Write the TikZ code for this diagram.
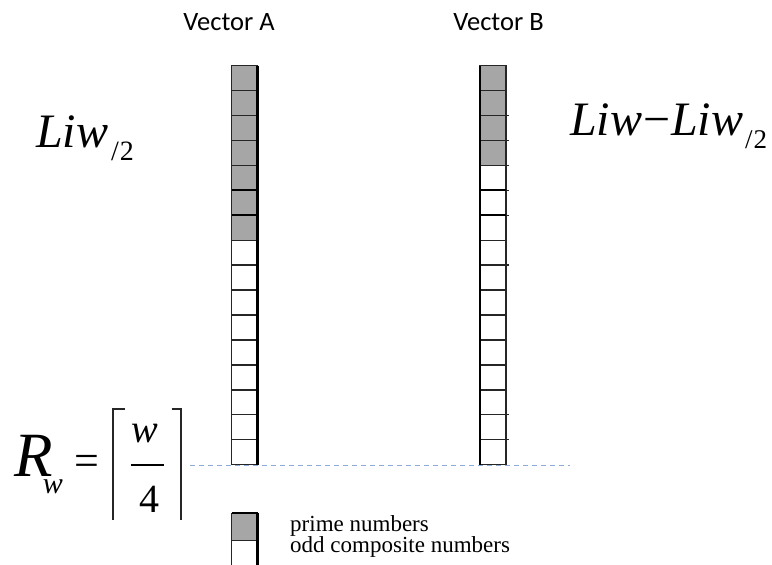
\documentclass[tikz,border=0pt]{standalone}
\usepackage{fontspec}
\setmainfont{Liberation Serif}[ItalicFont={Liberation Serif Italic}]
\newfontfamily\eqit{Liberation Serif Italic}
\newfontfamily\calfont{Carlito}
\definecolor{guidecol}{HTML}{8EAADB}
\definecolor{primegray}{HTML}{A6A6A6}
\begin{document}
\begin{tikzpicture}[x=1pt,y=-1pt,
  cellbox/.style={draw=black!85, line width=1.3pt, minimum width=26pt, minimum height=24.95pt, inner sep=0pt, outer sep=0pt},
  thickedge/.style={draw=black, line width=2.6pt},
  lbl/.style={font=\calfont\fontsize{26.5}{30}\selectfont, inner sep=0pt, anchor=base},
  eq/.style={inner sep=0pt, outer sep=0pt},
  legendtxt/.style={font=\fontsize{23}{24}\selectfont, inner sep=0pt, anchor=base west},
  guide/.style={draw=guidecol, line width=1pt, dash pattern=on 5pt off 4pt},
  bracket/.style={draw=black!85, line width=1.8pt},
  fracline/.style={draw=black, line width=1.5pt}]
\clip (0,0) rectangle (772,565);
\fill[white] (0,0) rectangle (772,565);
% guide line
\coordinate (gl) at (190,465);
\coordinate (gr) at (570,465);
\draw[guide] (gl) -- (gr);
% columns
\foreach \i in {1,...,16}{
  \pgfmathsetmacro{\yy}{65.5+(\i-0.5)*24.95}
  \ifnum\i<8 \def\fa{primegray}\else\def\fa{white}\fi
  \ifnum\i<5 \def\fb{primegray}\else\def\fb{white}\fi
  \node[cellbox, fill=\fa] (a\i) at (244.7,\yy) {};
  \node[cellbox, fill=\fb] (b\i) at (493,\yy) {};
}
\draw[thickedge] (a1.north east) -- (a16.south east);
\draw[thickedge] (b1.north west) -- (b16.south west);
\foreach \k in {5,6}{
  \draw[draw=black, line width=2.2pt] (a\k.south west) -- (a\k.south east);
  \draw[draw=black, line width=2.2pt] (b\k.south west) -- (b\k.south east);
}
\foreach \k in {2,3,4,5,6,8,14,15}{
  \draw[draw=black!85, line width=1.3pt] (b\k.south east) -- ([xshift=3pt]b\k.south east);
}
% labels
\node[lbl] (va) at (229,30) {Vector A};
\node[lbl] (vb) at (498.5,30) {Vector B};
% Liw_{/2}
\node[eq, anchor=base west] (liwA) at (36,147) {\fontsize{48}{48}\selectfont{\eqit Liw}\kern3pt\raisebox{-13pt}{\fontsize{28}{28}\selectfont /\kern1pt 2}};
\node[eq, anchor=base west] (liwB) at (570,135) {\fontsize{48}{48}\selectfont{\eqit Liw}\kern1pt −\kern1pt{\eqit Liw}\kern2pt\raisebox{-13pt}{\fontsize{27}{27}\selectfont /\kern1pt 2}};
% R_w = ceil(w/4)
\node[eq, anchor=base west] (rR) at (15,476) {\fontsize{63}{63}\selectfont{\eqit R}\kern-10.5pt\raisebox{-17pt}{\fontsize{30}{30}\selectfont\eqit w}};
\node[eq] (eqs) at (86.5,465) {\fontsize{44}{44}\selectfont =};
\node[eq, anchor=base] (num) at (145,442) {\fontsize{40}{40}\selectfont\eqit w};
\node[eq, anchor=base] (den) at (149.5,512) {\fontsize{40}{40}\selectfont 4};
\coordinate (fl) at (131,465);
\coordinate (fr) at (164,465);
\draw[fracline] (fl) -- (fr);
\coordinate (lbt) at (125,409);
\coordinate (lbc) at (113,409);
\coordinate (lbb) at (113,520);
\coordinate (rbt) at (171.5,409);
\coordinate (rbc) at (181,409);
\coordinate (rbb) at (181,520);
\draw[bracket] (lbt) -- (lbc) -- (lbb);
\draw[bracket] (rbt) -- (rbc) -- (rbb);
% legend
\node[cellbox, fill=primegray, minimum height=27.4pt] (lp) at (244.7,527) {};
\node[cellbox, fill=white, minimum height=28pt] (lc) at (244.7,554.7) {};
\draw[thickedge] (lp.north east) -- (lc.south east);
\draw[draw=black, line width=2.2pt] (lp.north west) -- (lp.north east);
\node[legendtxt] (tp) at (290,531) {prime numbers};
\node[legendtxt] (tc) at (290,552.5) {odd composite numbers};
\end{tikzpicture}
\end{document}
